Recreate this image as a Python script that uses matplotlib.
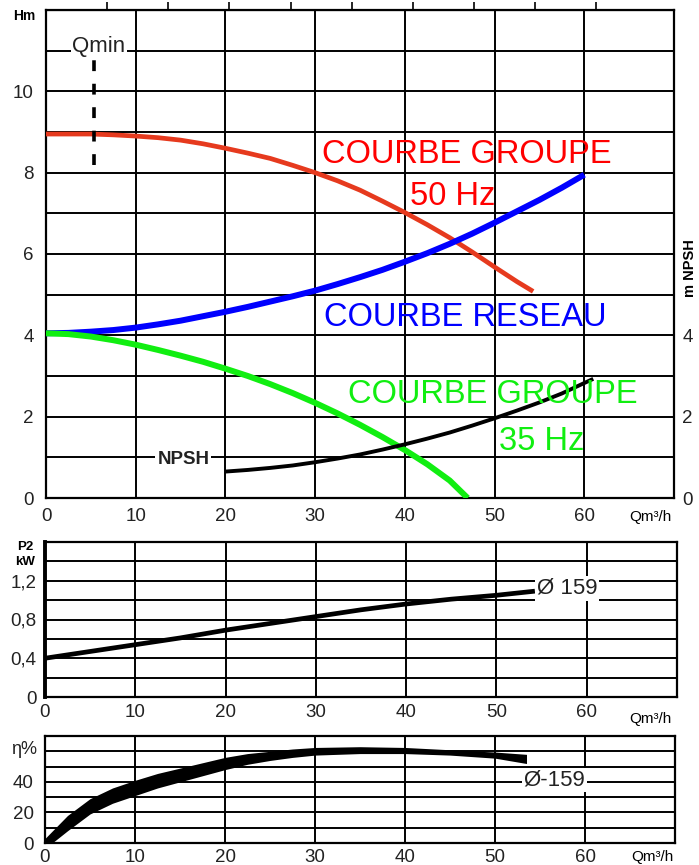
import numpy as np
import matplotlib
matplotlib.use('Agg')
import matplotlib.pyplot as plt

plt.rcParams['font.family'] = ['Liberation Sans', 'DejaVu Sans']

# Hm curves (Q in m3/h)
q_50 = [0, 2.5, 5, 7.5, 10, 12.5, 15, 17.5, 20, 22.5, 25, 27.5, 30, 32.5, 35,
        37.5, 40, 42.5, 45, 47.5, 50, 52.5, 54.3]
h_50 = [8.95, 8.95, 8.95, 8.93, 8.9, 8.86, 8.8, 8.71, 8.6, 8.48, 8.35, 8.18, 8.0,
        7.8, 7.57, 7.3, 7.02, 6.72, 6.4, 6.05, 5.68, 5.32, 5.08]
q_res = [0, 2.5, 5, 7.5, 10, 12.5, 15, 17.5, 20, 22.5, 25, 27.5, 30, 32.5, 35,
         37.5, 40, 42.5, 45, 47.5, 50, 52.5, 55, 57.5, 60]
h_res = [4.05, 4.06, 4.09, 4.13, 4.19, 4.27, 4.36, 4.47, 4.58, 4.7, 4.83, 4.96,
         5.1, 5.26, 5.43, 5.61, 5.81, 6.02, 6.25, 6.5, 6.77, 7.05, 7.33, 7.63, 7.95]
q_35 = [0, 2.5, 5, 7.5, 10, 12.5, 15, 17.5, 20, 22.5, 25, 27.5, 30, 32.5, 35,
        37.5, 40, 42.5, 45, 47]
h_35 = [4.05, 4.03, 3.97, 3.88, 3.77, 3.64, 3.5, 3.35, 3.18, 3.0, 2.8, 2.58,
        2.34, 2.08, 1.8, 1.5, 1.18, 0.83, 0.43, 0.0]
q_npsh = [20, 22.5, 25, 27.5, 30, 32.5, 35, 37.5, 40, 42.5, 45, 47.5, 50, 52.5,
          55, 57.5, 61]
npsh = [0.65, 0.69, 0.74, 0.8, 0.88, 0.97, 1.07, 1.19, 1.32, 1.46, 1.61, 1.78,
        1.96, 2.15, 2.35, 2.57, 2.93]
qmin = 5.3

# P2 kW
q_p2 = [0, 5, 10, 15, 20, 25, 30, 35, 40, 45, 50, 54]
p2 = [0.40, 0.47, 0.54, 0.61, 0.69, 0.76, 0.83, 0.90, 0.96, 1.01, 1.05, 1.09]

# efficiency band (upper / lower edge of the thick stroke)
q_eta = [0, 1, 2.5, 5, 7.5, 10, 12.5, 15, 17.5, 20, 22.5, 25, 27.5, 30, 35, 40,
         45, 50, 53.5]
eta_hi = [3, 9, 18, 29, 36, 41, 45.5, 49, 52.5, 56, 58.5, 60, 61.5, 62.5, 63,
          62.5, 61, 59.5, 58]
eta_lo = [-3, 1, 8, 19, 26, 31, 36, 40, 44, 48, 51.5, 54, 56, 57.5, 58.5, 58.5,
          57.5, 55.5, 52]

xticks = [0, 10, 20, 30, 40, 50, 60, 70]
xlabels = ['0', '10', '20', '30', '40', '50', '60', '']

W, H = 699, 865
fig = plt.figure(figsize=(W / 100, H / 100), dpi=100)

def box(l, r, t, b):
    return [l / W, 1 - b / H, (r - l) / W, (b - t) / H]

grid_kw = dict(color='black', lw=1.4, zorder=1)
tick_col = '#222222'

def style(ax, ymax, ystep, xpad):
    ax.set_xlim(0, 70)
    ax.set_ylim(0, ymax)
    for s in ax.spines.values():
        s.set_linewidth(1.6)
    for x in range(10, 70, 10):
        ax.axvline(x, **grid_kw)
    for y in np.arange(ystep, ymax, ystep):
        ax.axhline(y, **grid_kw)
    ax.set_xticks(xticks)
    ax.set_xticklabels(xlabels)
    ax.tick_params(length=0, labelsize=13.5, colors=tick_col, pad=xpad)

# ---------- top chart ----------
ax1 = fig.add_axes(box(46, 674, 10, 498))
style(ax1, 12, 1, 7)
ax1.set_yticks(range(0, 13))
ax1.set_yticklabels([str(v) if v % 2 == 0 and v <= 10 else '' for v in range(0, 13)])
ax1.tick_params(axis='y', pad=9)

ax1.plot(q_50, h_50, color='#e63a1e', lw=3.4, zorder=3, solid_capstyle='butt')
ax1.plot(q_res, h_res, color='#0000ff', lw=4.3, zorder=3, solid_capstyle='butt')
ax1.plot(q_35, h_35, color='#11ee11', lw=4.3, zorder=3, solid_capstyle='butt')
ax1.plot(q_npsh, npsh, color='black', lw=2.8, zorder=3, solid_capstyle='butt')
ax1.plot([qmin, qmin], [8.2, 11.0], color='black', lw=2.6, dashes=(3, 3.5), zorder=4)

ax1.text(5.9, 11.1, 'Qmin', fontsize=16, ha='center', va='center', zorder=5,
         color='#222222', bbox=dict(fc='white', ec='none', pad=1))
ax1.text(15.3, 0.95, 'NPSH', fontsize=13.5, fontweight='bold', ha='center', va='center',
         color='#222222', zorder=5, bbox=dict(fc='white', ec='none', pad=1.5))
big = 23.5
ax1.text(30.8, 8.44, 'COURBE GROUPE', color='#ff0000', fontsize=big, ha='left', va='center', zorder=5)
ax1.text(45.3, 7.42, '50 Hz', color='#ff0000', fontsize=big, ha='center', va='center', zorder=5)
ax1.text(31.0, 4.44, 'COURBE RESEAU', color='#0000ff', fontsize=big, ha='left', va='center', zorder=5)
ax1.text(33.7, 2.55, 'COURBE GROUPE', color='#11ee11', fontsize=big, ha='left', va='center', zorder=5)
ax1.text(55.3, 1.4, '35 Hz', color='#11ee11', fontsize=big, ha='center', va='center', zorder=5)

axr = ax1.twinx()
axr.set_ylim(0, 12)
axr.set_yticks([0, 2, 4])
axr.tick_params(length=0, labelsize=13.5, colors=tick_col, pad=6)
for s in axr.spines.values():
    s.set_visible(False)

sec = ax1.secondary_xaxis('top', functions=(lambda q: q * 4.403, lambda g: g / 4.403))
sec.set_xticks(range(30, 271, 30))
sec.set_xticklabels([])
sec.tick_params(length=6, width=1.2, direction='out')

fig.text(13 / W, 1 - 16 / H, 'Hm', fontsize=10, fontweight='bold', ha='left', va='center')
fig.text(690 / W, 1 - 268 / H, 'm NPSH', fontsize=10.5, fontweight='bold', rotation=90,
         ha='center', va='center')
fig.text(650 / W, 1 - 517 / H, 'Qm³/h', fontsize=11, ha='center', va='center')

# ---------- P2 chart ----------
ax2 = fig.add_axes(box(45, 677, 542, 697))
style(ax2, 1.6, 0.2, 5)
ax2.set_yticks([0, 0.4, 0.8, 1.2])
ax2.set_yticklabels(['0', '0,4', '0,8', '1,2'])
ax2.tick_params(axis='y', pad=6)
ax2.spines['left'].set_linewidth(2.8)
ax2.plot(q_p2, p2, color='black', lw=3.4, zorder=3)
ax2.text(57.8, 1.12, 'Ø 159', fontsize=16, ha='center', va='center', zorder=5,
         color='#222222', bbox=dict(fc='white', ec='none', pad=1.5))
fig.text(25 / W, 1 - 547 / H, 'P2', fontsize=9.5, fontweight='bold', ha='center', va='center')
fig.text(25 / W, 1 - 562 / H, 'kW', fontsize=9.5, fontweight='bold', ha='center', va='center')
fig.text(650 / W, 1 - 719 / H, 'Qm³/h', fontsize=11, ha='center', va='center')

# ---------- efficiency chart ----------
ax3 = fig.add_axes(box(45, 675, 736, 843))
style(ax3, 70, 10, 4)
ax3.set_yticks([0, 20, 40])
ax3.tick_params(axis='y', pad=8)
ax3.fill_between(q_eta, eta_lo, eta_hi, color='black', lw=0, zorder=3)
ax3.text(56.6, 41, 'Ø-159', fontsize=16, ha='center', va='center', zorder=5,
         color='#222222', bbox=dict(fc='white', ec='none', pad=1))
fig.text(24 / W, 1 - 749 / H, 'η%', fontsize=13, ha='center', va='center', color=tick_col)
fig.text(652 / W, 1 - 857 / H, 'Qm³/h', fontsize=11, ha='center', va='center')

fig.savefig('out.png', dpi=100)
